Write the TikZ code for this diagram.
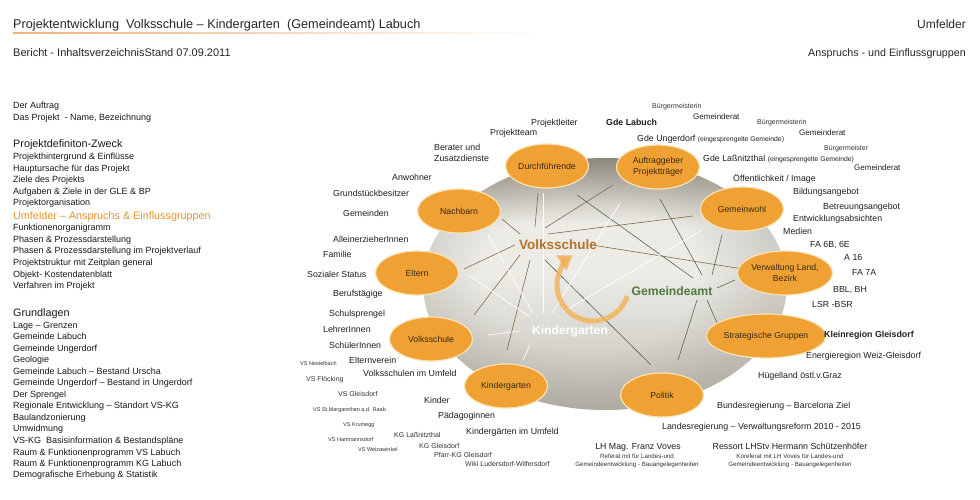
\documentclass[tikz,border=0pt]{standalone}
\usepackage{fontspec}
\setmainfont{Liberation Sans}
\usetikzlibrary{shapes.geometric,arrows.meta,fadings}
\definecolor{ovfill}{HTML}{EFA134}
\definecolor{ovedge}{HTML}{FAE2B6}
\definecolor{ovtext}{HTML}{3A2A12}
\definecolor{orangetxt}{HTML}{EA922C}
\definecolor{hdline}{HTML}{F0B27A}
\definecolor{brline}{HTML}{7D6C4C}
\definecolor{grline}{HTML}{56684E}
\definecolor{dkline}{HTML}{5C5A50}
\definecolor{vscol}{HTML}{B4722A}
\definecolor{gacol}{HTML}{4F7A3C}
\definecolor{arrcol}{HTML}{F2B257}
\definecolor{dkA}{HTML}{8E897D}
\definecolor{dkB}{HTML}{B9B5AB}
\definecolor{dkC}{HTML}{ECEBE6}
\definecolor{dkD}{HTML}{D6D4CD}
\definecolor{dkE}{HTML}{BDBAB2}
\definecolor{rimcol}{HTML}{8A867B}
\pgfdeclareverticalshading{diskv}{100bp}{color(0bp)=(dkE); color(25bp)=(dkE); color(38bp)=(dkD); color(52bp)=(dkC); color(62bp)=(dkC); color(70bp)=(dkB); color(75bp)=(dkA); color(100bp)=(dkA)}
\pgfdeclareradialshading{rimsh}{\pgfpoint{-3bp}{2bp}}{color(0bp)=(black); color(15bp)=(black); color(25bp)=(black!72!white); color(50bp)=(black!72!white)}
\pgfdeclarefading{rimfade}{\pgfuseshading{rimsh}}
\tikzset{
  lb/.style={anchor=west, inner sep=0pt, text height=0.8em, text depth=0.1em, text=black!88, font=\fontsize{8.8}{10}\selectfont},
  lbm/.style={lb, font=\fontsize{8}{9}\selectfont},
  lbs/.style={lb, text=black!80, font=\fontsize{7}{8}\selectfont},
  lbt/.style={lb, text=black!80, font=\fontsize{5.5}{6}\selectfont},
  lbx/.style={lb, text=black!80, font=\fontsize{7}{8}\selectfont},
  lbb/.style={lb, font=\bfseries\fontsize{8.8}{10}\selectfont},
  lbc/.style={lb, anchor=center},
  lbxc/.style={lbx, anchor=center, font=\fontsize{6.2}{7}\selectfont},
  toc/.style={anchor=west, inner sep=0pt, text height=0.8em, text depth=0.1em, text=black!90, font=\fontsize{9}{10}\selectfont},
  toch/.style={toc, font=\fontsize{10.8}{12}\selectfont},
  ov/.style={ellipse, fill=ovfill, draw=ovedge, line width=1.2pt, minimum width=83pt, minimum height=44pt, inner sep=0pt, align=center, text=ovtext, font=\fontsize{8.7}{11}\selectfont},
  brl/.style={draw=brline, line width=0.6pt},
  grl/.style={draw=grline, line width=0.6pt},
  whl/.style={draw=white, line width=0.8pt, opacity=0.9}
}
\begin{document}
\begin{tikzpicture}[x=1pt,y=-1pt]
\useasboundingbox (0,0) rectangle (980,500);
\fill[white] (0,0) rectangle (980,500);

% header
\node[toc, font=\fontsize{12.7}{14}\selectfont, text=black!85] (title) at (13,25) {Projektentwicklung\ \ Volksschule – Kindergarten\ \ (Gemeindeamt) Labuch};
\shade[left color=hdline, right color=white] (13,32.4) rectangle (545,33.2);
\node[toc, anchor=east, font=\fontsize{12}{14}\selectfont, text=black!85] (umf) at (966,25) {Umfelder};
\node[toc, font=\fontsize{11}{12}\selectfont, text=black!85] (ber) at (13,53) {Bericht - InhaltsverzeichnisStand 07.09.2011};
\node[toc, anchor=east, font=\fontsize{10.7}{12}\selectfont, text=black!85] (anspr) at (966,53) {Anspruchs - und Einflussgruppen};

% left column
\node[toc] (t1) at (13,105.5) {Der Auftrag};
\node[toc] (t2) at (13,116.7) {Das Projekt\ \ - Name, Bezeichnung};
\node[toch] (t3) at (13,144) {Projektdefiniton-Zweck};
\foreach \yy/\tt [count=\i] in {156/{Projekthintergrund \& Einflüsse},167.7/{Hauptursache für das Projekt},179.3/{Ziele des Projekts},190.7/{Aufgaben \& Ziele in der GLE \& BP},202.3/{Projektorganisation}}
  \node[toc] (pa\i) at (13,\yy) {\tt};
\node[toch, text=orangetxt] (t4) at (13,216) {Umfelder – Anspruchs \& Einflussgruppen};
\foreach \yy/\tt [count=\i] in {227.3/{Funktionenorganigramm},239/{Phasen \& Prozessdarstellung},250.3/{Phasen \& Prozessdarstellung im Projektverlauf},262.3/{Projektstruktur mit Zeitplan general},273.7/{Objekt- Kostendatenblatt},285/{Verfahren im Projekt}}
  \node[toc] (pb\i) at (13,\yy) {\tt};
\node[toch] (t5) at (13,312.7) {Grundlagen};
\foreach \yy/\tt [count=\i] in {324.7/{Lage – Grenzen},336/{Gemeinde Labuch},347.7/{Gemeinde Ungerdorf},359.3/{Geologie},370.7/{Gemeinde Labuch – Bestand Urscha},382.3/{Gemeinde Ungerdorf – Bestand in Ungerdorf},393.7/{Der Sprengel},405.3/{Regionale Entwicklung – Standort VS-KG},417/{Baulandzonierung},428.3/{Umwidmung},440/{VS-KG\ \ Basisinformation \& Bestandspläne},451.7/{Raum \& Funktionenprogramm VS Labuch},463/{Raum \& Funktionenprogramm KG Labuch},474.3/{Demografische Erhebung \& Statistik}}
  \node[toc] (pc\i) at (13,\yy) {\tt};

% disk
\shade[shading=diskv] (605,284) ellipse [x radius=182, y radius=126];
\fill[rimcol, path fading=rimfade, fit fading] (605,284) ellipse [x radius=182, y radius=126];

% lines
\foreach \a/\b in {{538,193}/{535,227},{613,185}/{545,228},{502,219}/{520,234},{693,216}/{548,234},{592,245}/{743,269},{515,245}/{464,269},{520,255}/{474,315},{530,260}/{507,350}}
  \draw[brl] (\a) -- (\b);
\draw[draw=dkline, line width=0.6pt] (545,260) -- (651,365);
\foreach \a/\b in {{577,195}/{693,278},{660,199}/{702,275},{722,235}/{712,275},{717,288}/{735,280},{707,300}/{718,325},{697,300}/{678,360}}
  \draw[grl] (\a) -- (\b);
\foreach \a/\b in {{543,193}/{543,313},{620,203}/{552,313},{702,230}/{563,312},{488,235}/{533,313},{468,275}/{530,317},{488,335}/{520,331},{523,360}/{530,345}}
  \draw[whl] (\a) -- (\b);

% circular arrow
\draw[draw=arrcol, opacity=0.8, line width=5pt, -{Triangle[width=17pt,length=14pt]}] (593,285) ++(18:36) arc[start angle=18, end angle=236, radius=36];

% centre labels
\node[inner sep=0pt, text=vscol, font=\bfseries\fontsize{13.5}{15}\selectfont] (vslbl) at (558,245) {Volksschule};
\node[inner sep=0pt, text=white, font=\bfseries\fontsize{12.2}{14}\selectfont] (kglbl) at (570,331) {Kindergarten};
\node[inner sep=0pt, text=gacol, font=\bfseries\fontsize{12.2}{14}\selectfont] (galbl) at (672,291) {Gemeindeamt};

% ovals
\node[ov] (dur) at (547,166) {Durchführende};
\node[ov] (auf) at (658,167) {Auftraggeber\\Projektträger};
\node[ov] (nach) at (459,211) {Nachbarn};
\node[ov] (gw) at (742,209) {Gemeinwohl};
\node[ov] (elt) at (417,273) {Eltern};
\node[ov] (vw) at (785,273) {Verwaltung Land,\\Bezirk};
\node[ov] (vsov) at (431,339) {Volksschule};
\node[ov, minimum width=94pt] (sg) at (766,336) {Strategische Gruppen};
\node[ov] (kgov) at (506,386) {Kindergarten};
\node[ov] (pol) at (662,395) {Politik};

% Durchführende
\node[lb] (l1) at (531,122) {Projektleiter};
\node[lb] (l2) at (490,132) {Projektteam};
\node[lb] (l3) at (434,147) {Berater und};
\node[lb] (l4) at (434,158) {Zusatzdienste};
% Auftraggeber
\node[lbx] (a1) at (652,105) {Bürgermeisterin};
\node[lbm] (a2) at (693,116) {Gemeinderat};
\node[lbb] (a3) at (606,122) {Gde Labuch};
\node[lbx] (a4) at (757,121) {Bürgermeisterin};
\node[lb] (a5) at (637,138) {Gde Ungerdorf {\fontsize{6.8}{7}\selectfont (eingesprengelte Gemeinde)}};
\node[lbm] (a6) at (799,132) {Gemeinderat};
\node[lbx] (a7) at (824,147) {Bürgermeister};
\node[lb] (a8) at (703,158) {Gde Laßnitzthal {\fontsize{6.8}{7}\selectfont (eingesprengelte Gemeinde)}};
\node[lbm] (a9) at (854,167) {Gemeinderat};
% Gemeinwohl
\node[lb] (g1) at (733,178) {Öffentlichkeit / Image};
\node[lb] (g2) at (793,191) {Bildungsangebot};
\node[lb] (g3) at (823,206) {Betreuungsangebot};
\node[lb] (g4) at (793,218) {Entwicklungsabsichten};
\node[lb] (g5) at (783,231) {Medien};
% Verwaltung
\node[lb] (v1) at (810,244) {FA 6B, 6E};
\node[lb] (v2) at (844,257) {A 16};
\node[lb] (v3) at (852,272) {FA 7A};
\node[lb] (v4) at (833,289) {BBL, BH};
\node[lb] (v5) at (812,304) {LSR -BSR};
% Strategische Gruppen
\node[lbb] (s1) at (824,334) {Kleinregion Gleisdorf};
\node[lb] (s2) at (806,355) {Energieregion Weiz-Gleisdorf};
\node[lb] (s3) at (758,375) {Hügelland östl.v.Graz};
% Politik
\node[lb] (p1) at (717,405) {Bundesregierung – Barcelona Ziel};
\node[lb] (p2) at (662,426) {Landesregierung – Verwaltungsreform 2010 - 2015};
\node[lbc] (p3) at (638,446) {LH Mag. Franz Voves};
\node[lbxc] (p4) at (637,455) {Referat mit für Landes-und};
\node[lbxc] (p5) at (637,463) {Gemeindeentwicklung - Bauangelegenheiten};
\node[lbc] (p6) at (790,446) {Ressort LHStv Hermann Schützenhöfer};
\node[lbxc] (p7) at (790,455) {Koreferat mit LH Voves für Landes-und};
\node[lbxc] (p8) at (790,463) {Gemeindeentwicklung - Bauangelegenheiten};
% Kindergarten
\node[lb] (k1) at (424,400) {Kinder};
\node[lb] (k2) at (438,415) {Pädagoginnen};
\node[lb] (k3) at (466,431) {Kindergärten im Umfeld};
\node[lbs] (k4) at (394,434) {KG Laßnitzthal};
\node[lbs] (k5) at (419,445) {KG Gleisdorf};
\node[lbs] (k6) at (434,454) {Pfarr-KG Gleisdorf};
\node[lbs] (k7) at (465,463) {Wiki Ludersdorf-Wilfersdorf};
% Volksschule
\node[lb] (u1) at (329,313) {Schulsprengel};
\node[lb] (u2) at (323,329) {LehrerInnen};
\node[lb] (u3) at (329,345) {SchülerInnen};
\node[lb] (u4) at (349,360) {Elternverein};
\node[lb] (u5) at (363,373) {Volksschulen im Umfeld};
\node[lbt] (w1) at (300,362) {VS Nestelbach};
\node[lbs] (w2) at (306,378) {VS Flöcking};
\node[lbs] (w3) at (338,393) {VS Gleisdorf};
\node[lbt] (w4) at (313,408) {VS St.Margarethen a.d. Raab};
\node[lbt] (w5) at (343,423) {VS Krumegg};
\node[lbt] (w6) at (328,438) {VS Hartmannsdorf};
\node[lbt] (w7) at (358,448) {VS Weizawinkel};
% Eltern
\node[lb] (e1) at (333,239) {AlleinerzieherInnen};
\node[lb] (e2) at (323,254) {Familie};
\node[lb] (e3) at (307,274) {Sozialer Status};
\node[lb] (e4) at (333,293) {Berufstägige};
% Nachbarn
\node[lb] (n1) at (392,177) {Anwohner};
\node[lb] (n2) at (333,193) {Grundstückbesitzer};
\node[lb] (n3) at (343,213) {Gemeinden};
\end{tikzpicture}
\end{document}
